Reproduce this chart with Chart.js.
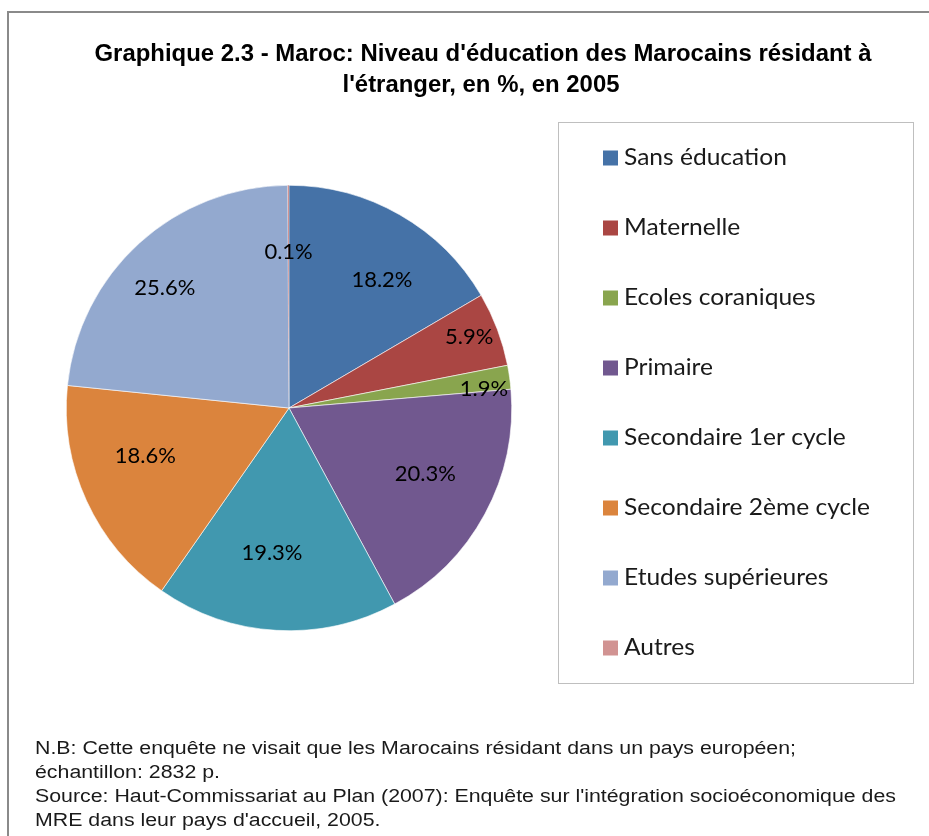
<!DOCTYPE html>
<html><head><meta charset="utf-8">
<script src="https://cdn.jsdelivr.net/npm/chart.js@4.4.0/dist/chart.umd.min.js"></script>
<style>html,body{margin:0;padding:0;background:#fff;overflow:hidden}canvas{display:block}</style>
</head><body>
<canvas id="c" width="929" height="836"></canvas>
<script>
const categories = ['Sans éducation','Maternelle','Ecoles coraniques','Primaire','Secondaire 1er cycle','Secondaire 2ème cycle','Etudes supérieures','Autres'];
const values = [18.2, 5.9, 1.9, 20.3, 19.3, 18.6, 25.6, 0.1];
const colors = ['#4572A7','#AA4643','#89A54E','#71588F','#4198AF','#DB843D','#93A9CF','#D19392'];
const titleLines = ["Graphique 2.3 - Maroc: Niveau d'éducation des Marocains résidant à", "l'étranger, en %, en 2005"];
const noteLines = [
  "N.B: Cette enquête ne visait que les Marocains résidant dans un pays européen;",
  "échantillon: 2832 p.",
  "Source: Haut-Commissariat au Plan (2007): Enquête sur l'intégration socioéconomique des",
  "MRE dans leur pays d'accueil, 2005."
];
const labelRadius = [0.71, 0.87, 0.88, 0.68, 0.655, 0.68, 0.775, 0.70];
const labelShift = [0.108, -0.014, 0.04, -0.044, 0.06, 0.11, -0.065, 0];

function fitScale(ctx, text, target){ return target / ctx.measureText(text).width; }
function drawScaled(ctx, text, x, y, s, align){
  ctx.save();
  ctx.translate(x, y);
  ctx.scale(s, 1);
  ctx.textAlign = align;
  ctx.fillText(text, 0, 0);
  ctx.restore();
}

const decor = {
  id: 'decor',
  beforeDraw(chart){
    const ctx = chart.ctx;
    ctx.save();
    ctx.fillStyle = '#fff';
    ctx.fillRect(0,0,chart.width,chart.height);
    ctx.strokeStyle = '#8a8a8a';
    ctx.lineWidth = 2;
    ctx.strokeRect(8, 12, 940, 840);
    ctx.restore();
  },
  afterDraw(chart){
    const ctx = chart.ctx;
    ctx.save();
    // title
    ctx.fillStyle = '#000';
    ctx.textBaseline = 'alphabetic';
    ctx.font = "bold 23px 'Liberation Sans Narrow', 'Liberation Sans', Arial, sans-serif";
    const ts = fitScale(ctx, titleLines[0], 777);
    drawScaled(ctx, titleLines[0], 483, 61, ts, 'center');
    drawScaled(ctx, titleLines[1], 481, 92, ts, 'center');
    // data labels
    const meta = chart.getDatasetMeta(0);
    ctx.font = "22px Lato, 'Open Sans', sans-serif";
    ctx.fillStyle = '#000';
    ctx.textBaseline = 'middle';
    meta.data.forEach((arc, i) => {
      const p = arc.getProps(['startAngle','endAngle','outerRadius','x','y'], true);
      const mid = (p.startAngle + p.endAngle) / 2 + labelShift[i];
      const r = p.outerRadius * labelRadius[i];
      const x = p.x + Math.cos(mid) * r;
      const y = p.y + Math.sin(mid) * r;
      ctx.textAlign = 'center';
      ctx.fillText(values[i].toFixed(1) + '%', x, y);
    });
    // legend box
    ctx.strokeStyle = '#bfbfbf';
    ctx.lineWidth = 1;
    ctx.strokeRect(558.5, 122.5, 355, 561);
    ctx.font = "23px Lato, 'Open Sans', sans-serif";
    const ls = fitScale(ctx, 'Secondaire 2ème cycle', 246);
    categories.forEach((c, i) => {
      const cy = 158 + i * 70;
      ctx.fillStyle = colors[i];
      ctx.fillRect(603, cy - 7.5, 15, 15);
      ctx.fillStyle = '#1a1a1a';
      ctx.textBaseline = 'middle';
      drawScaled(ctx, c, 624, cy, ls, 'left');
    });
    // notes
    ctx.fillStyle = '#1a1a1a';
    ctx.textBaseline = 'alphabetic';
    ctx.font = "18px 'Liberation Sans Narrow', 'Liberation Sans', Arial, sans-serif";
    const ns = fitScale(ctx, noteLines[2], 861);
    noteLines.forEach((t, i) => drawScaled(ctx, t, 35, 754 + i * 24, ns, 'left'));
    ctx.restore();
  }
};

new Chart(document.getElementById('c'), {
  type: 'pie',
  data: {
    labels: categories,
    datasets: [{
      data: values,
      backgroundColor: colors,
      borderColor: '#ffffff',
      borderWidth: [0.6,0.6,0.6,0.6,0.6,0.6,0.6,0],
      hoverOffset: 0
    }]
  },
  options: {
    responsive: false,
    animation: false,
    rotation: 0,
    layout: { padding: { left: 66, right: 417, top: 185, bottom: 205 } },
    plugins: {
      legend: { display: false },
      title: { display: false },
      tooltip: { enabled: false }
    }
  },
  plugins: [decor]
});
</script>
</body></html>
